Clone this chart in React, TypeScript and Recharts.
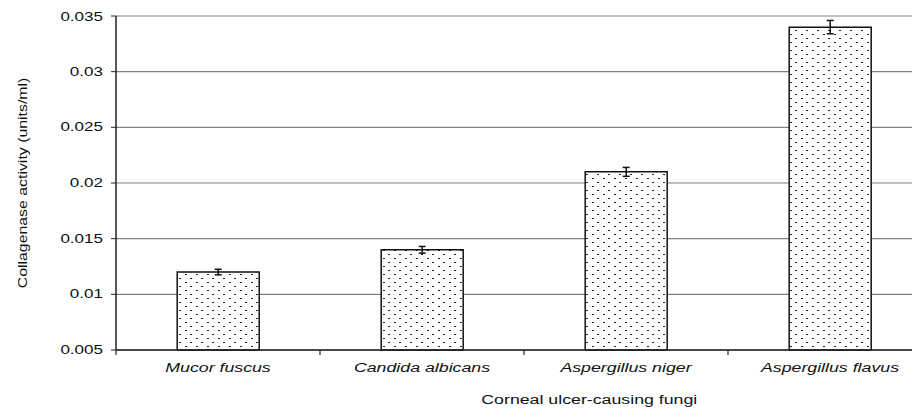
import React from "react";
import {
  BarChart, Bar, XAxis, YAxis, CartesianGrid, ErrorBar, Label, ReferenceLine,
} from "recharts";

// values
const categories = ["Mucor fuscus", "Candida albicans", "Aspergillus niger", "Aspergillus flavus"];
const activity = [0.012, 0.014, 0.021, 0.034];
const activityErr = [0.00025, 0.0003, 0.0004, 0.0006];
const yTicks = [0.005, 0.01, 0.015, 0.02, 0.025, 0.03, 0.035];

const FONT = "'Liberation Sans', Arial, sans-serif";
const STRETCH = 1.42; // the original image is stretched sideways

const data = categories.map((name, i) => ({
  name,
  activity: activity[i],
  err: activityErr[i],
}));

function YTick({ x, y, payload }: any) {
  return (
    <text
      transform={`translate(${x - 6},${y}) scale(${STRETCH},1)`}
      textAnchor="end"
      dy={4}
      fontSize={12}
      fontFamily={FONT}
      fill="#111"
    >
      {String(payload.value)}
    </text>
  );
}

function CatTick({ x, y, payload }: any) {
  return (
    <text
      transform={`translate(${x},${y + 14}) scale(${STRETCH},1)`}
      textAnchor="middle"
      fontSize={12.5}
      fontStyle="italic"
      fontFamily={FONT}
      fill="#111"
    >
      {payload.value}
    </text>
  );
}

// short tick below the axis at each category's left edge
function EdgeTick(props: any) {
  const x = props.x1;
  const bottom = Math.max(props.y1, props.y2);
  return <line x1={x} x2={x} y1={bottom} y2={bottom + 5} stroke="#222" strokeWidth={1.2} />;
}

function XTitle({ viewBox }: any) {
  const cx = viewBox.x + viewBox.width * 0.58;
  return (
    <text
      transform={`translate(${cx},${viewBox.y + 54}) scale(${STRETCH},1)`}
      textAnchor="middle"
      fontSize={12.5}
      fontFamily={FONT}
      fill="#111"
    >
      Corneal ulcer-causing fungi
    </text>
  );
}

function YTitle({ viewBox }: any) {
  const cy = viewBox.y + viewBox.height / 2;
  return (
    <text
      transform={`translate(15,${cy}) rotate(-90) scale(1.22,1)`}
      textAnchor="middle"
      dy={4}
      fontSize={13}
      fontFamily={FONT}
      fill="#111"
    >
      Collagenase activity (units/ml)
    </text>
  );
}

export default function App() {
  return (
    <div style={{ width: 912, height: 404, overflow: "hidden", position: "relative", background: "#fff" }}>
      <svg width={0} height={0} style={{ position: "absolute" }}>
        <defs>
          <pattern id="dots" width={11} height={8} patternUnits="userSpaceOnUse">
            <rect width={11} height={8} fill="#fff" />
            <rect x={1} y={2} width={2} height={1} fill="#222" />
            <rect x={6} y={6} width={2} height={1} fill="#222" />
          </pattern>
        </defs>
      </svg>
      <BarChart
        width={930}
        height={404}
        data={data}
        margin={{ top: 8, right: 6, left: 48, bottom: 0 }}
        barCategoryGap="30%"
      >
        <CartesianGrid horizontal vertical={false} stroke="#808080" strokeWidth={1.2} />
        <XAxis
          dataKey="name"
          height={62}
          axisLine={{ stroke: "#222", strokeWidth: 1.5 }}
          tickLine={false}
          tick={<CatTick />}
          interval={0}
        >
          <Label content={<XTitle />} />
        </XAxis>
        <YAxis
          width={60}
          domain={[0.005, 0.035]}
          ticks={yTicks}
          axisLine={{ stroke: "#222", strokeWidth: 1.5 }}
          tickLine={{ stroke: "#222" }}
          tickSize={5}
          tick={<YTick />}
        >
          <Label content={<YTitle />} />
        </YAxis>
        {categories.map((c) => (
          <ReferenceLine key={c} x={c} position="start" ifOverflow="visible" shape={<EdgeTick />} />
        ))}
        <Bar
          dataKey="activity"
          fill="url(#dots)"
          stroke="#111"
          strokeWidth={1.5}
          isAnimationActive={false}
        >
          <ErrorBar dataKey="err" width={3.5} stroke="#111" strokeWidth={1.5} direction="y" isAnimationActive={false} />
        </Bar>
      </BarChart>
    </div>
  );
}
